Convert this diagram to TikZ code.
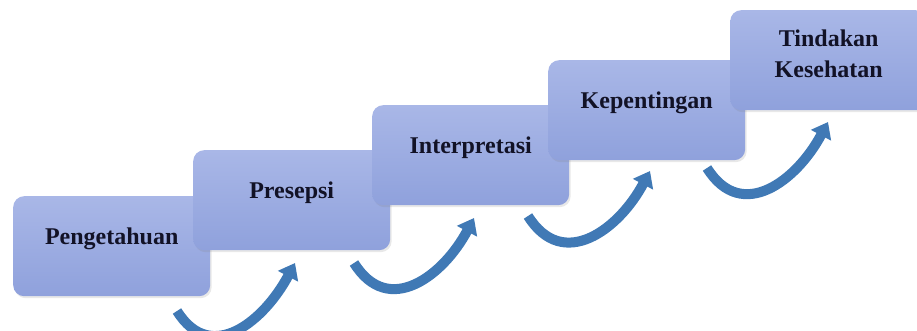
\documentclass[tikz,border=0pt]{standalone}
\usepackage{fontspec}
\setmainfont{Liberation Serif}
\usetikzlibrary{arrows.meta,calc,shadows}
\definecolor{boxtop}{HTML}{A9B7E7}
\definecolor{boxbot}{HTML}{8FA1DC}
\definecolor{txtcol}{HTML}{121226}
\definecolor{arrcol}{HTML}{4079B5}
\begin{document}
\begin{tikzpicture}[x=1pt,y=1pt,
  stepbox/.style={rounded corners=11pt, top color=boxtop, bottom color=boxbot,
    draw=none, minimum width=197pt, minimum height=100pt, inner sep=0pt, anchor=north west,
    drop shadow={opacity=0.18, shadow xshift=1.5pt, shadow yshift=-2pt}},
  steptext/.style={font=\fontsize{24}{31}\selectfont\bfseries, text=txtcol, align=center},
  curvearrow/.style={draw=arrcol, line width=10pt,
    -{Triangle[width=22pt,length=15pt]}, out=-58, in=-118, looseness=1.3}
]
\useasboundingbox (0,0) rectangle (917,330);
\node[stepbox] (b1) at (13,134) {};
\node[steptext] (t1) at ($(b1.north)+(0,-43)$) {Pengetahuan};
\node[stepbox] (b2) at (193,180) {};
\node[steptext] (t2) at ($(b2.north)+(0,-43)$) {Presepsi};
\node[stepbox] (b3) at (372,225) {};
\node[steptext] (t3) at ($(b3.north)+(0,-43)$) {Interpretasi};
\node[stepbox] (b4) at (548,270) {};
\node[steptext] (t4) at ($(b4.north)+(0,-43)$) {Kepentingan};
\node[stepbox] (b5) at (730,320) {};
\node[steptext] (t5) at ($(b5.north)+(0,-44)$) {Tindakan\\Kesehatan};

\coordinate (s1) at (177,19);  \coordinate (e1) at (295,67);
\coordinate (s2) at (354,67);  \coordinate (e2) at (474,112);
\coordinate (s3) at (528,114); \coordinate (e3) at (650,159);
\coordinate (s4) at (707,162); \coordinate (e4) at (828,208);
\draw[curvearrow] (s1) to (e1);
\draw[curvearrow] (s2) to (e2);
\draw[curvearrow] (s3) to (e3);
\draw[curvearrow] (s4) to (e4);
\end{tikzpicture}
\end{document}
